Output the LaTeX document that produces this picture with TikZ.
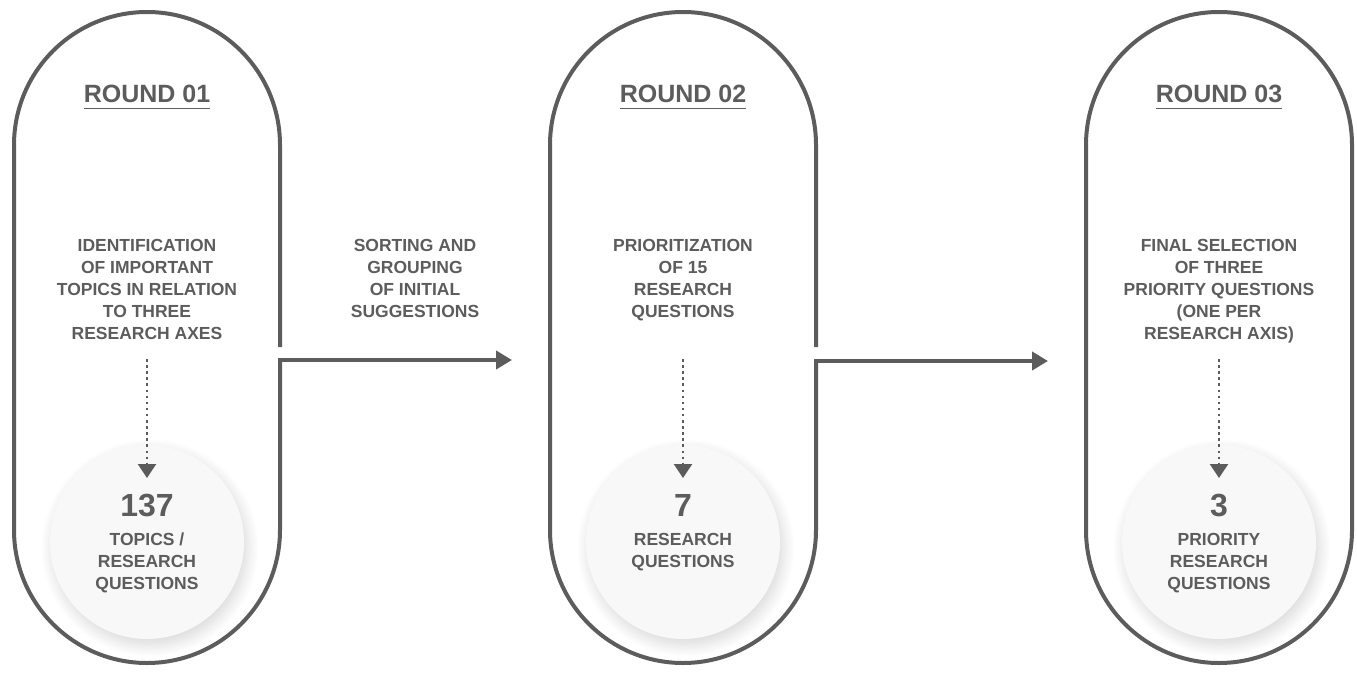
\documentclass[tikz,border=0pt]{standalone}
\usepackage{fontspec}
\setmainfont{Liberation Sans}
\usetikzlibrary{arrows.meta,shadows.blur}
\definecolor{ink}{HTML}{5C5C5C}
\definecolor{disc}{HTML}{F8F8F8}

\begin{document}
\begin{tikzpicture}[x=1pt,y=-1pt]
\tikzstyle{pill} = [draw=ink, line width=4pt, line cap=rect];
\tikzstyle{flow} = [draw=ink, line width=4pt, -{Triangle[length=16pt,width=18pt]}];
\tikzstyle{dots} = [draw=ink, line width=2.5pt, dash pattern=on 2.5pt off 3.6pt,
  -{Triangle[length=14pt,width=18pt]}];
\tikzstyle{title} = [anchor=north, inner sep=0pt, text=ink,
  font=\bfseries\fontsize{25}{30}\selectfont];
\tikzstyle{body} = [anchor=north, inner sep=0pt, text=ink, align=center,
  font=\bfseries\fontsize{17.5}{21.9}\selectfont];
\tikzstyle{num} = [anchor=north, inner sep=0pt, text=ink,
  font=\bfseries\fontsize{32}{36}\selectfont];
\tikzstyle{disc} = [circle, fill=disc, minimum size=194pt, inner sep=0pt,
  blur shadow={shadow xshift=3pt, shadow yshift=-6pt, shadow blur radius=12pt,
  shadow blur steps=14, shadow opacity=16}];
\useasboundingbox (0,0) rectangle (1357,674);

% discs
\node[disc] (c1) at (147,542) {};
\node[disc] (c2) at (683,542) {};
\node[disc] (c3) at (1219,542) {};

% round 01
\coordinate (o1) at (280,360);
\draw[pill] (280,345) -- (280,145) arc(0:-180:133) -- (14,530) arc(180:0:133) -- (o1);
\node[title] (t1) at (147,85) {ROUND 01};
\node[body] (b1) at (147,239) {IDENTIFICATION\\OF IMPORTANT\\TOPICS IN RELATION\\TO THREE\\RESEARCH AXES};
\node[num] (n1) at (147,494) {137};
\node[body] (s1) at (147,533) {TOPICS /\\RESEARCH\\QUESTIONS};

% round 02
\coordinate (o2) at (816,361);
\draw[pill] (816,345) -- (816,145) arc(0:-180:133) -- (550,530) arc(180:0:133) -- (o2);
\node[title] (t2) at (683,85) {ROUND 02};
\node[body] (b2) at (683,239) {PRIORITIZATION\\OF 15\\RESEARCH\\QUESTIONS};
\node[num] (n2) at (683,494) {7};
\node[body] (s2) at (683,533) {RESEARCH\\QUESTIONS};

% round 03
\draw[pill] (1352,145) arc(0:-180:133) -- (1086,530) arc(180:0:133) -- cycle;
\node[title] (t3) at (1219,85) {ROUND 03};
\node[body] (b3) at (1219,239) {FINAL SELECTION\\OF THREE\\PRIORITY QUESTIONS\\(ONE PER\\RESEARCH AXIS)};
\node[num] (n3) at (1219,494) {3};
\node[body] (s3) at (1219,533) {PRIORITY\\RESEARCH\\QUESTIONS};

% underlines
\draw[ink, line width=1.5pt] ([yshift=-6pt]t1.base west) -- ([yshift=-6pt]t1.base east);
\draw[ink, line width=1.5pt] ([yshift=-6pt]t2.base west) -- ([yshift=-6pt]t2.base east);
\draw[ink, line width=1.5pt] ([yshift=-6pt]t3.base west) -- ([yshift=-6pt]t3.base east);

% dotted steps
\coordinate (d1) at (147,359);
\coordinate (d2) at (683,359);
\coordinate (d3) at (1219,359);
\draw[dots] (d1) -- ([yshift=16pt]n1.north);
\draw[dots] (d2) -- ([yshift=16pt]n2.north);
\draw[dots] (d3) -- ([yshift=16pt]n3.north);

% between rounds
\node[body] (m1) at (415,239) {SORTING AND\\GROUPING\\OF INITIAL\\SUGGESTIONS};
\coordinate (i2) at (512,360);
\coordinate (i3) at (1048,361);
\draw[flow] (o1) -- (i2);
\draw[flow] (o2) -- (i3);
\end{tikzpicture}
\end{document}
